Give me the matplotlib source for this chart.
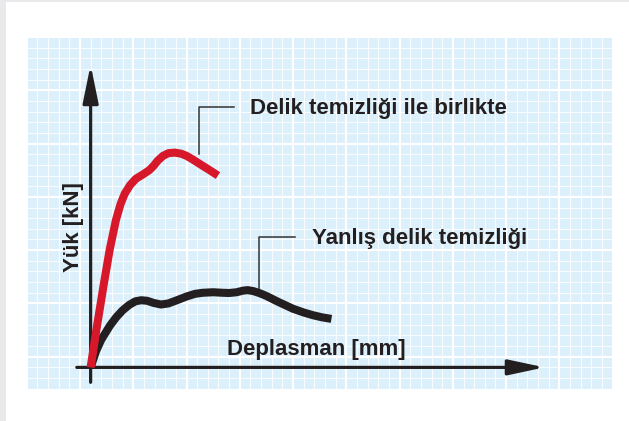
import matplotlib
matplotlib.use("Agg")
import matplotlib.pyplot as plt
from matplotlib.patches import Rectangle
import numpy as np

# Load–displacement curves (arbitrary grid units)
with_cleaning_x = [0, 0.6, 1.25, 1.8, 2.37, 2.8, 3.2, 3.7, 4.25, 4.9, 5.5, 5.9, 6.3, 6.8, 7.3, 7.9, 8.5, 9.0, 9.6, 10.3, 11.1, 11.95]
with_cleaning_y = [0, 3.9, 7.9, 11.1, 13.8, 15.3, 16.3, 17.1, 17.7, 18.1, 18.5, 18.9, 19.4, 19.85, 20.1, 20.15, 20.05, 19.85, 19.5, 19.05, 18.55, 18.0]

wrong_cleaning_x = [0, 0.5, 1.0, 1.8, 2.4, 3.0, 3.6, 4.2, 4.75, 5.3, 5.9, 6.6, 7.3, 8.1, 9.0, 9.8, 10.5, 11.5, 12.4, 13.0, 13.7, 14.3, 14.75, 15.3, 15.9, 16.5, 17.6, 19.0, 20.0, 20.85, 21.7, 22.6]
wrong_cleaning_y = [0, 1.5, 2.6, 3.9, 4.7, 5.35, 5.85, 6.2, 6.3, 6.25, 6.05, 5.9, 6.0, 6.3, 6.65, 6.9, 7.0, 7.05, 7.0, 6.98, 7.05, 7.2, 7.25, 7.15, 6.95, 6.7, 6.15, 5.5, 5.15, 4.9, 4.7, 4.55]

label_with = "Delik temizliği ile birlikte"
label_wrong = "Yanlış delik temizliği"
xlabel = "Deplasman [mm]"
ylabel = "Yük [kN]"

INK = "#231f20"
RED = "#d7182a"
PANEL = "#dcf0fb"

W, H = 629, 421
fig = plt.figure(figsize=(W / 100, H / 100), dpi=100)
fig.patch.set_facecolor("white")

# page edge strips
fig.add_artist(Rectangle((0, 0), 6 / W, 1, transform=fig.transFigure, color="#e9e9ec", lw=0, zorder=0))
fig.add_artist(Rectangle((0, 1 - 2 / H), 1, 2 / H, transform=fig.transFigure, color="#e9e9ec", lw=0, zorder=0))

left, right, top, bottom = 26.7, 612.7, 37.0, 388.7
ax = fig.add_axes([left / W, (H - bottom) / H, (right - left) / W, (bottom - top) / H])
ax.set_xlim(-6, 49)
ax.set_ylim(-2, 31)
ax.set_facecolor(PANEL)
for s in ax.spines.values():
    s.set_visible(False)
ax.set_xticks([])
ax.set_yticks([])

# graph-paper grid
for x in np.arange(-6, 50, 1):
    major = (x + 1) % 5 == 0
    ax.axvline(x, color="white", lw=1.5 if major else 0.8, alpha=1 if major else 0.85, zorder=1)
for y in np.arange(-2, 32, 1):
    major = (y - 1) % 5 == 0
    ax.axhline(y, color="white", lw=1.5 if major else 0.8, alpha=1 if major else 0.85, zorder=1)

# axes with arrows
ax.annotate("", xy=(0, 28.4), xytext=(0, -1.4),
            arrowprops=dict(arrowstyle="-|>,head_length=2.3,head_width=0.47",
                            lw=2.3, color=INK, shrinkA=0, shrinkB=0), zorder=3)
ax.annotate("", xy=(42.6, 0), xytext=(-1.3, 0),
            arrowprops=dict(arrowstyle="-|>,head_length=2.2,head_width=0.47",
                            lw=2.3, color=INK, shrinkA=0, shrinkB=0), zorder=3)

# curves
ax.plot(wrong_cleaning_x, wrong_cleaning_y, color=INK, lw=5.8,
        solid_capstyle="butt", solid_joinstyle="round", zorder=4)
ax.plot(with_cleaning_x, with_cleaning_y, color=RED, lw=5.8,
        solid_capstyle="butt", solid_joinstyle="round", zorder=5)

# leader lines
ax.plot([10.16, 10.16, 13.47], [20.0, 24.44, 24.44], color="#333333", lw=1.1, zorder=4)
ax.plot([15.84, 15.84, 19.2], [7.2, 12.2, 12.2], color="#333333", lw=1.1, zorder=3)

font = dict(family=["Liberation Sans", "DejaVu Sans"], weight="bold", size=16, color=INK)
ax.text(14.97, 23.75, label_with, ha="left", va="baseline", zorder=6, **font)
ax.text(20.8, 11.55, label_wrong, ha="left", va="baseline", zorder=6, **font)
ax.text(12.84, 1.15, xlabel, ha="left", va="baseline", zorder=6, **font)
ax.text(-1.6, 13.2, ylabel, ha="center", va="center", rotation=90, zorder=6, **font)

fig.savefig("out.png", dpi=100)
